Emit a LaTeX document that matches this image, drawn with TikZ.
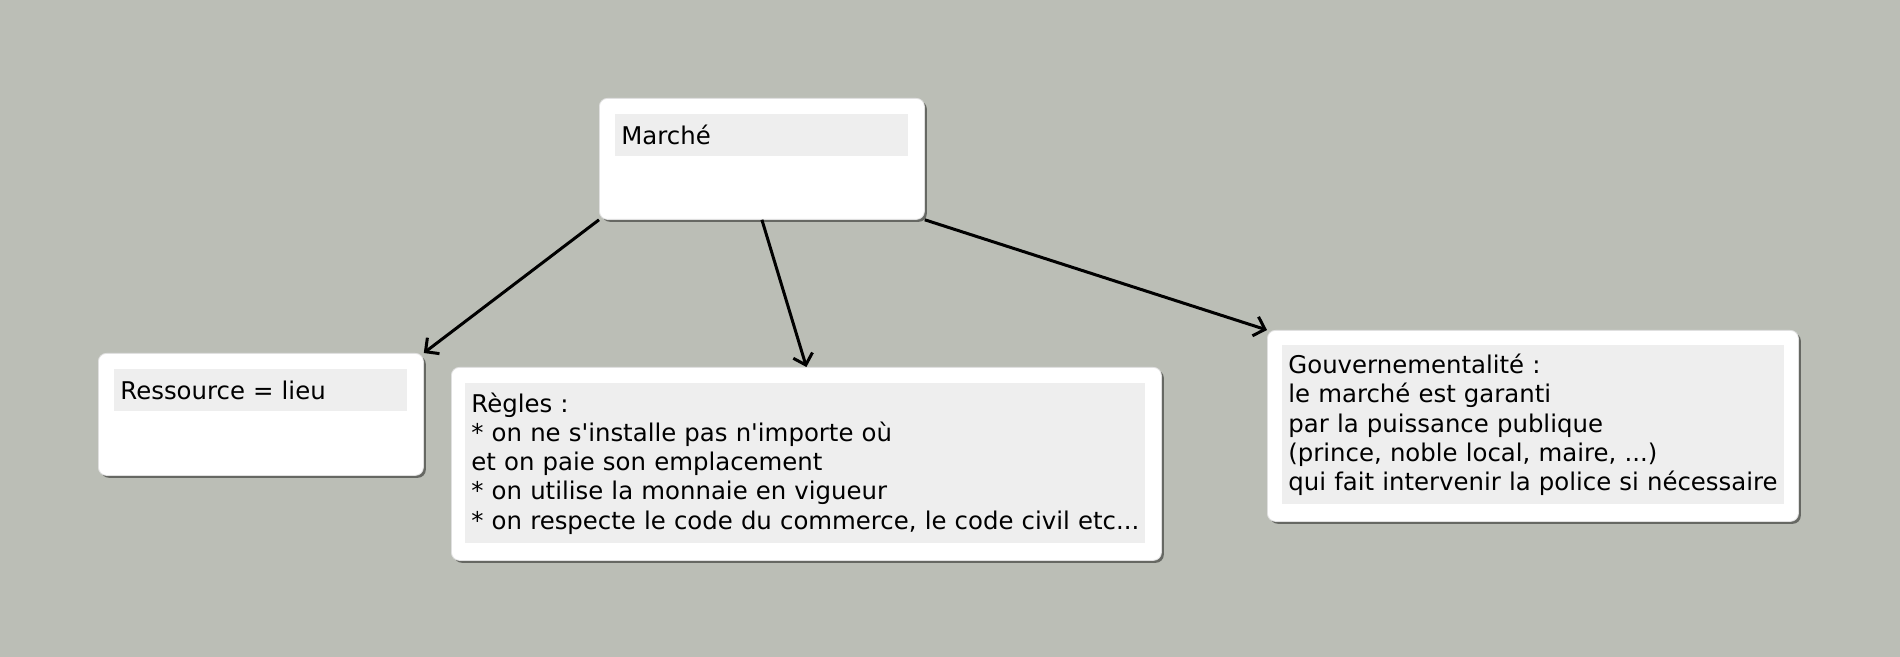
\documentclass[tikz,border=0pt]{standalone}
\usepackage{fontspec}
\setmainfont{DejaVu Sans}[Ligatures=TeXOff]
\usepackage{tikz}
\usetikzlibrary{shapes,positioning,calc,shadows,arrows.meta}
\definecolor{fondo}{RGB}{187,190,182}
\definecolor{grigio}{RGB}{238,238,238}

\begin{document}
\begin{tikzpicture}[x=0.5pt, y=-0.5pt,
	box/.style={rectangle, draw=black!12, fill=white, rounded corners=4pt, anchor=north west, drop shadow={shadow xshift=1.2pt, shadow yshift=-1.2pt, opacity=0.45, fill=black}},
	titolo/.style={rectangle, fill=grigio, text width=#1, align=left, inner xsep=3pt, inner ysep=0pt, anchor=north west, font=\fontsize{12.2}{14.65}\selectfont},
	link/.style={-{Straight Barb[length=5pt,width=10pt]}, line width=1.5pt, black}]

\fill[fondo] (0,0) rectangle (1900,657);

%--riquadro Marché
\node [box, minimum width=162.5pt, minimum height=60.5pt] (marche) at (599,98) {};
\node [titolo=140.5pt, minimum height=21pt, below right=8pt and 8pt of marche.north west] (marchetitle) {Marché};

%--riquadro Ressource
\node [box, minimum width=162.5pt, minimum height=61pt] (ressource) at (98,353) {};
\node [titolo=140.5pt, minimum height=21pt, below right=8pt and 8pt of ressource.north west] (ressourcetitle) {Ressource = lieu};

%--riquadro Règles
\node [box, minimum width=355pt, minimum height=96.5pt] (regles) at (451,367) {};
\node [titolo=334pt, minimum height=80pt, below right=8pt and 7pt of regles.north west] (reglestext)
	{Règles :\\
	 {*} on ne s'installe pas n'importe où\\
	 et on paie son emplacement\\
	 {*} on utilise la monnaie en vigueur\\
	 {*} on respecte le code du commerce, le code civil etc...};

%--riquadro Gouvernementalité
\node [box, minimum width=265.5pt, minimum height=95.5pt] (gouv) at (1267,330) {};
\node [titolo=245pt, minimum height=79.5pt, below right=7.5pt and 7.5pt of gouv.north west] (gouvtext)
	{Gouvernementalité :\\
	 le marché est garanti\\
	 par la puissance publique\\
	 (prince, noble local, maire, ...)\\
	 qui fait intervenir la police si nécessaire};

%--frecce
\draw[link] (marche.south west) -- (ressource.north east);
\draw[link] (marche.south) -- (regles.north);
\draw[link] (marche.south east) -- (gouv.north west);

\end{tikzpicture}
\end{document}
